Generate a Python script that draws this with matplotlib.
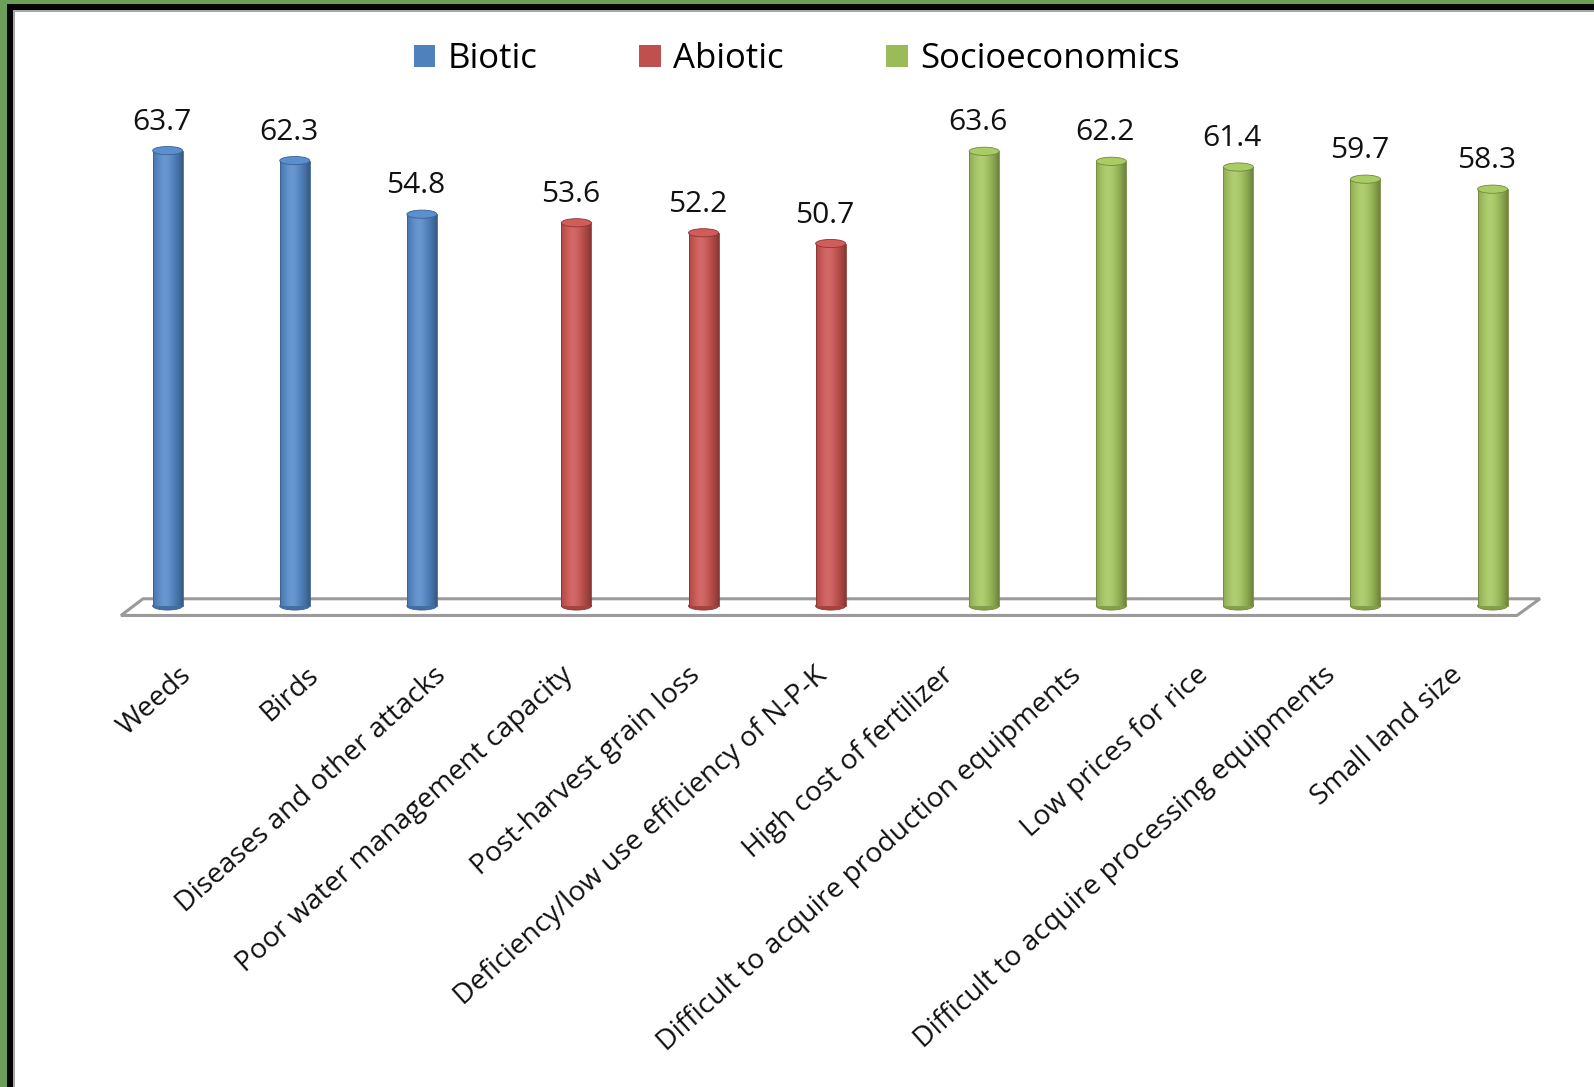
import numpy as np
import matplotlib
matplotlib.use("Agg")
import matplotlib.pyplot as plt
from matplotlib.patches import Ellipse, Polygon, Patch, Rectangle
from matplotlib.colors import to_rgb

plt.rcParams['font.family'] = ['Open Sans', 'DejaVu Sans']

# ---- data -------------------------------------------------------------
categories = [
    "Weeds", "Birds", "Diseases and other attacks",
    "Poor water management capacity", "Post-harvest grain loss",
    "Deficiency/low use efficiency of N-P-K",
    "High cost of fertilizer", "Difficult to acquire production equipments",
    "Low prices for rice", "Difficult to acquire processing equipments",
    "Small land size",
]
values = [63.7, 62.3, 54.8, 53.6, 52.2, 50.7, 63.6, 62.2, 61.4, 59.7, 58.3]
series_names = ["Biotic", "Abiotic", "Socioeconomics"]
series_of_category = [0, 0, 0, 1, 1, 1, 2, 2, 2, 2, 2]

series_colors = ["#4f81bd", "#c0504d", "#9bbb59"]
series_edges = ["#3a6291", "#8e3533", "#71893f"]
series_offsets = [-0.16, 0.056, 0.264]   # position of each series inside a category
bar_width = 0.236
cap_height = 1.15                       # vertical size of the cylinder caps (data units)

# ---- figure -----------------------------------------------------------
W, H = 1594, 1087
fig = plt.figure(figsize=(W / 100, H / 100), dpi=100)
fig.patch.set_facecolor("white")

# frame: green outer band, black inner band, thin grey line
def fig_rect(x, y, w, h, color):
    fig.patches.append(Rectangle((x / W, 1 - (y + h) / H), w / W, h / H,
                                 transform=fig.transFigure, facecolor=color,
                                 edgecolor="none", zorder=0))

fig_rect(0, 0, 7, H, "#6c9f57")
fig_rect(0, 0, W, 4, "#6c9f57")
fig_rect(7, 4, 6, H, "#050505")
fig_rect(7, 4, W, 6, "#050505")
fig_rect(13, 10, 1.5, H, "#a8a8a8")
fig_rect(13, 10, W, 1.5, "#a8a8a8")

ax = fig.add_axes([0.0701, 0.4294, 0.9090, 0.4735])
ax.set_facecolor("none")

# floor of the 3-D plot area
floor = Polygon([(-0.527, -1.33), (10.456, -1.33), (10.637, 1.0), (-0.354, 1.0)],
                closed=True, facecolor="white", edgecolor="#9a9a9a",
                linewidth=2.2, zorder=1, clip_on=False)
ax.add_patch(floor)


def shade_row(rgb, n=64):
    t = np.linspace(0, 1, n)
    g = np.clip(1 - ((t - 0.4) / 0.6) ** 2, 0, 1)
    base = np.array(rgb)[None, :] * (0.70 + 0.36 * g[:, None])
    hl = (g ** 6)[:, None] * 0.12
    row = np.clip(base * (1 - hl) + hl, 0, 1)
    return row[None, :, :]


for i, (v, s) in enumerate(zip(values, series_of_category)):
    x = i + series_offsets[s]
    rgb = to_rgb(series_colors[s])
    # bottom cap
    ax.add_patch(Ellipse((x, 0), bar_width, cap_height,
                         facecolor=np.array(rgb) * 0.85, edgecolor=series_edges[s],
                         linewidth=0.6, zorder=2))
    bar = ax.bar(x, v, width=bar_width, facecolor="none",
                 edgecolor="none", zorder=3)[0]
    im = ax.imshow(shade_row(rgb), extent=(x - bar_width / 2, x + bar_width / 2, 0, v),
                   aspect="auto", interpolation="bilinear", zorder=2.5)
    im.set_clip_path(bar)
    # side outline
    ax.plot([x - bar_width / 2, x - bar_width / 2], [0, v], color=series_edges[s],
            lw=0.6, zorder=3)
    ax.plot([x + bar_width / 2, x + bar_width / 2], [0, v], color=series_edges[s],
            lw=0.6, zorder=3)
    # top cap
    top_rgb = np.clip(np.array(rgb) * 1.05 + 0.03, 0, 1)
    ax.add_patch(Ellipse((x, v), bar_width, cap_height, facecolor=top_rgb,
                         edgecolor=series_edges[s], linewidth=0.6, zorder=4))
    ax.annotate(f"{v:.1f}", xy=(x, v), xytext=(-6, 21), textcoords="offset pixels",
                ha="center", va="baseline", fontsize=21.5, color="#111111")

ax.set_xlim(-0.6, 10.8)
ax.set_ylim(-2, 70)
ax.set_xticks(range(len(categories)))
ax.set_xticklabels(categories, rotation=42, ha="right", va="center",
                   rotation_mode="anchor", fontsize=20.3, color="#111111")
ax.tick_params(axis="x", length=0, pad=37)
ax.set_yticks([])
for sp in ax.spines.values():
    sp.set_visible(False)

handles = [Patch(facecolor=c, edgecolor="none", label=n)
           for c, n in zip(series_colors, series_names)]
fig.legend(handles=handles, loc="center", bbox_to_anchor=(0.4997, 0.9455), ncol=3,
           frameon=False, fontsize=25, handlelength=0.62, handleheight=0.62,
           handletextpad=0.35, columnspacing=2.95, borderpad=0)

fig.savefig("out.png", dpi=100)
